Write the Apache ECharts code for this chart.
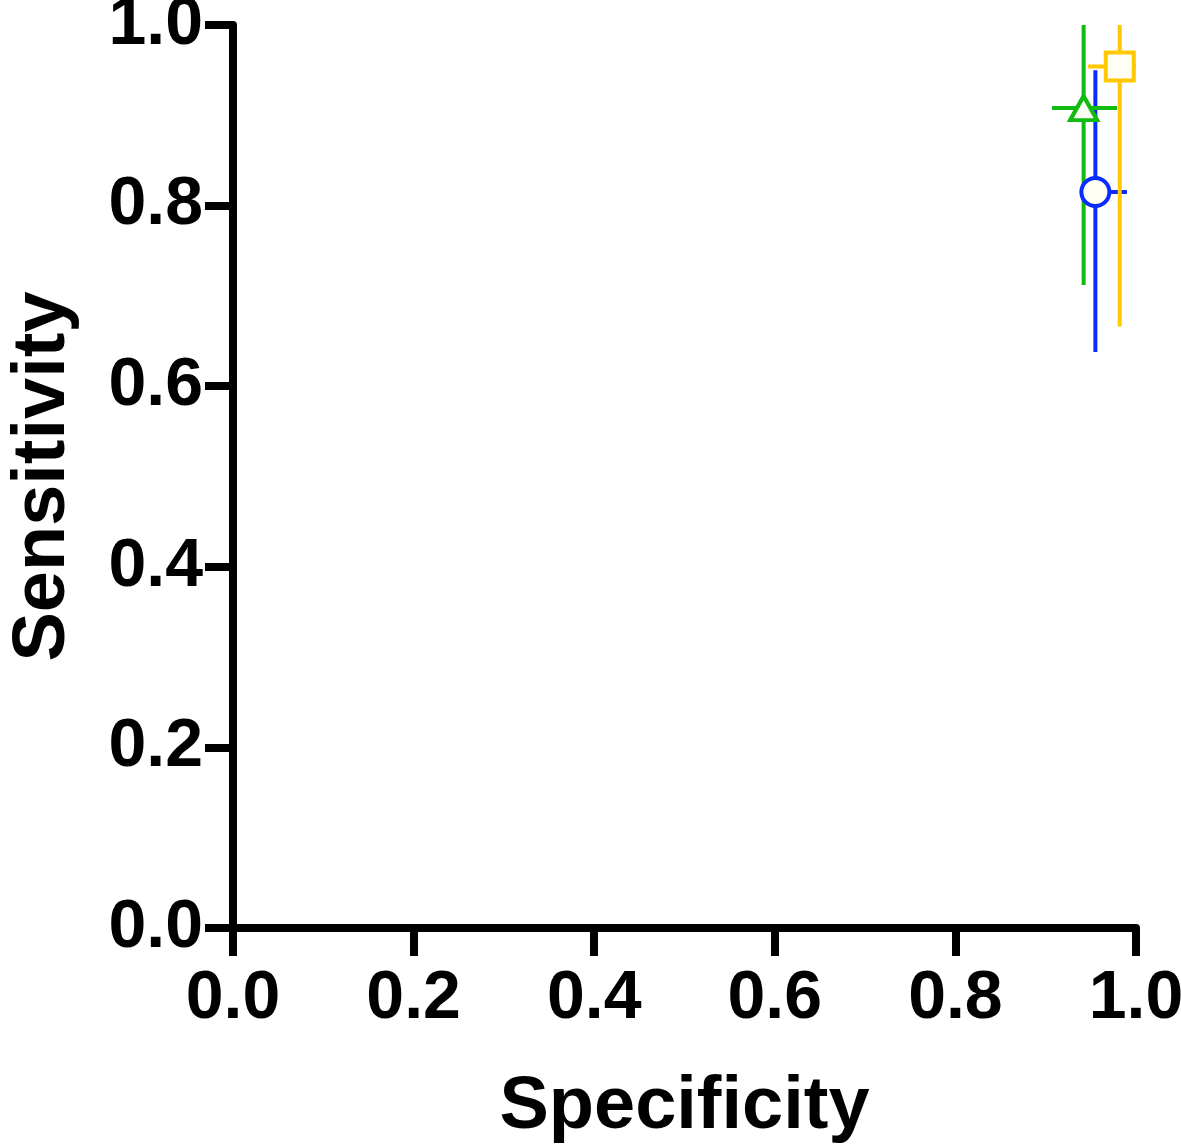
<!DOCTYPE html>
<html>
<head>
<meta charset="utf-8">
<script src="https://cdn.jsdelivr.net/npm/echarts@6/dist/echarts.min.js"></script>
<style>
  html, body { margin: 0; padding: 0; background: #fff; }
  #chart { width: 1181px; height: 1147px; }
</style>
</head>
<body>
<div id="chart"></div>
<script>
// three test groups, point estimate with 95% CI
const groups = ['Blue', 'Green', 'Yellow'];
const colors = ['#0a2cff', '#12bb12', '#ffc800'];
const symbols = ['circle', 'triangle', 'rect'];

const specificity = [0.955, 0.942, 0.982];
const specLow = [0.94, 0.907, 0.947];
const specHigh = [0.99, 0.979, 1.0];

const sensitivity = [0.815, 0.908, 0.954];
const sensLow = [0.638, 0.712, 0.666];
const sensHigh = [0.95, 1.0, 1.0];

const ticks = [0, 0.2, 0.4, 0.6, 0.8, 1.0];

const FONT = '"Liberation Sans", Arial, Helvetica, sans-serif';

const chart = echarts.init(document.getElementById('chart'));

const axisCommon = {
  type: 'value',
  min: ticks[0],
  max: ticks[ticks.length - 1],
  interval: 0.2,
  splitLine: { show: false },
  axisLine: { show: true, lineStyle: { color: '#000', width: 8 } },
  axisTick: { show: true, length: 28, lineStyle: { color: '#000', width: 8 } },
  nameLocation: 'middle',
  nameTextStyle: { color: '#000', fontSize: 74, fontWeight: 'bold', fontFamily: FONT },
};

const errorSeries = groups.map((g, i) => ({
  name: g,
  type: 'custom',
  z: 2,
  clip: false,
  data: [[specificity[i], sensitivity[i], specLow[i], specHigh[i], sensLow[i], sensHigh[i]]],
  renderItem: (params, api) => {
    const c = api.coord([api.value(0), api.value(1)]);
    const xl = api.coord([api.value(2), api.value(1)]);
    const xh = api.coord([api.value(3), api.value(1)]);
    const yl = api.coord([api.value(0), api.value(4)]);
    const yh = api.coord([api.value(0), api.value(5)]);
    const style = { stroke: colors[i], lineWidth: 4, fill: null };
    return {
      type: 'group',
      children: [
        { type: 'line', shape: { x1: xl[0], y1: c[1], x2: xh[0], y2: c[1] }, style },
        { type: 'line', shape: { x1: c[0], y1: yl[1], x2: c[0], y2: yh[1] }, style },
      ],
    };
  },
}));

const pointSeries = groups.map((g, i) => ({
  name: g,
  type: 'scatter',
  z: 5,
  clip: false,
  symbol: symbols[i],
  symbolSize: i === 1 ? [27, 24] : 28,
  itemStyle: { color: '#fffef4', borderColor: colors[i], borderWidth: 4, opacity: 1 },
  data: [[specificity[i], sensitivity[i]]],
}));

chart.setOption({
  animation: false,
  backgroundColor: '#fff',
  grid: { left: 233, right: 45, top: 25, bottom: 219, containLabel: false, outerBoundsMode: 'none' },
  xAxis: {
    ...axisCommon,
    name: 'Specificity',
    nameGap: 143,
    axisLabel: {
      color: '#000', fontSize: 68, fontWeight: 'bold', fontFamily: FONT, margin: 37,
      formatter: v => v.toFixed(1),
    },
  },
  yAxis: {
    ...axisCommon,
    name: 'Sensitivity',
    nameGap: 152,
    axisLabel: {
      color: '#000', fontSize: 68, fontWeight: 'bold', fontFamily: FONT, margin: 30,
      formatter: v => v.toFixed(1),
    },
  },
  series: [...errorSeries, ...pointSeries],
});
</script>
</body>
</html>
